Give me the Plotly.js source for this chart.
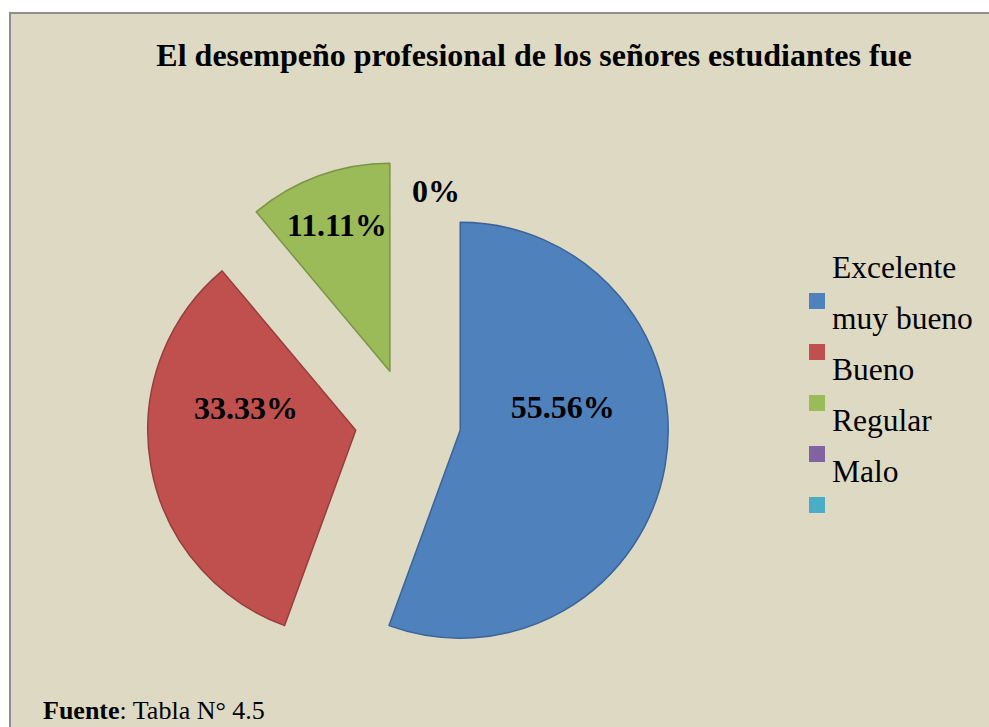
<!DOCTYPE html>
<html>
<head>
<meta charset="utf-8">
<script src="https://cdn.plot.ly/plotly-3.0.1.min.js"></script>
<style>html,body{margin:0;padding:0;background:#fff;}#chart{width:989px;height:727px;}</style>
</head>
<body>
<div id="chart"></div>
<script>
// Data
const categories = ["Excelente", "muy bueno", "Bueno", "Regular", "Malo"];
const percentValues = [55.56, 33.33, 11.11, 0, 0];
const sliceColors = ["#4F81BD", "#C0504D", "#9BBB59", "#8064A2", "#4BACC6"];
const edgeColors = ["#3B6498", "#973E3C", "#7A9545", "#654E82", "#3A8AA0"];
const titleText = "El desempeño profesional de los señores estudiantes fue";
const sourceBold = "Fuente";
const sourceRest = ": Tabla N° 4.5";

const W = 989, H = 727;
const px = x => x / W;
const py = y => 1 - y / H;

const serif = "Liberation Serif, Times New Roman, serif";

const trace = {
  type: "pie",
  labels: categories,
  values: percentValues,
  sort: false,
  direction: "clockwise",
  rotation: 0,
  pull: [0.255, 0.255, 0.255, 0.255, 0.255],
  marker: {
    colors: sliceColors,
    line: { color: edgeColors, width: percentValues.map(v => (v > 0 ? 1.5 : 0)) }
  },
  texttemplate: ["%{percent:.2%}<br> <br> ", "%{percent:.2%}<br> <br> ", "%{percent:.2%}", "", ""],
  textposition: percentValues.map(v => (v > 0 ? "inside" : "none")),
  insidetextorientation: "horizontal",
  textfont: { family: serif, size: 32, color: "#000", weight: "bold" },
  domain: { x: [px(408 - 261), px(408 + 261)], y: [py(421 + 261), py(421 - 261)] },
  showlegend: false,
  hoverinfo: "label+percent"
};

const shapes = [{
  type: "rect", xref: "paper", yref: "paper", layer: "below",
  x0: px(10), x1: 1.05, y0: -0.05, y1: py(13),
  fillcolor: "#DDD9C3", line: { color: "#8E8E8E", width: 2 }
}];

const annotations = [];
// custom legend (marker squares sit below their label, as in the reference)
categories.forEach((c, i) => {
  shapes.push({
    type: "rect", xref: "paper", yref: "paper", layer: "above",
    x0: px(809), x1: px(825), y0: py(309 + i * 51), y1: py(293 + i * 51),
    fillcolor: sliceColors[i], line: { width: 0 }
  });
  annotations.push({
    xref: "paper", yref: "paper", x: px(830), y: py(267 + i * 51.2),
    xanchor: "left", yanchor: "middle", showarrow: false,
    text: c, font: { family: serif, size: 31.5, color: "#000" }
  });
});
// label of the zero-valued slice
annotations.push({
  xref: "paper", yref: "paper", x: px(436), y: py(191),
  xanchor: "center", yanchor: "middle", showarrow: false,
  text: "<b>" + percentValues[3] + "%</b>", font: { family: serif, size: 32, color: "#000" }
});
// source note
annotations.push({
  xref: "paper", yref: "paper", x: px(41), y: 0,
  xanchor: "left", yanchor: "bottom", showarrow: false,
  text: "<b>" + sourceBold + "</b>" + sourceRest, font: { family: serif, size: 26, color: "#000" }
});

const layout = {
  width: W, height: H,
  margin: { l: 0, r: 0, t: 0, b: 0 },
  paper_bgcolor: "#FFFFFF",
  title: {
    text: "<b>" + titleText + "</b>",
    font: { family: serif, size: 32, color: "#000" },
    x: px(534), xanchor: "center", xref: "paper",
    y: py(55), yanchor: "middle", yref: "paper"
  },
  shapes: shapes,
  annotations: annotations,
  showlegend: false
};

Plotly.newPlot("chart", [trace], layout, { displayModeBar: false, staticPlot: true });
</script>
</body>
</html>
